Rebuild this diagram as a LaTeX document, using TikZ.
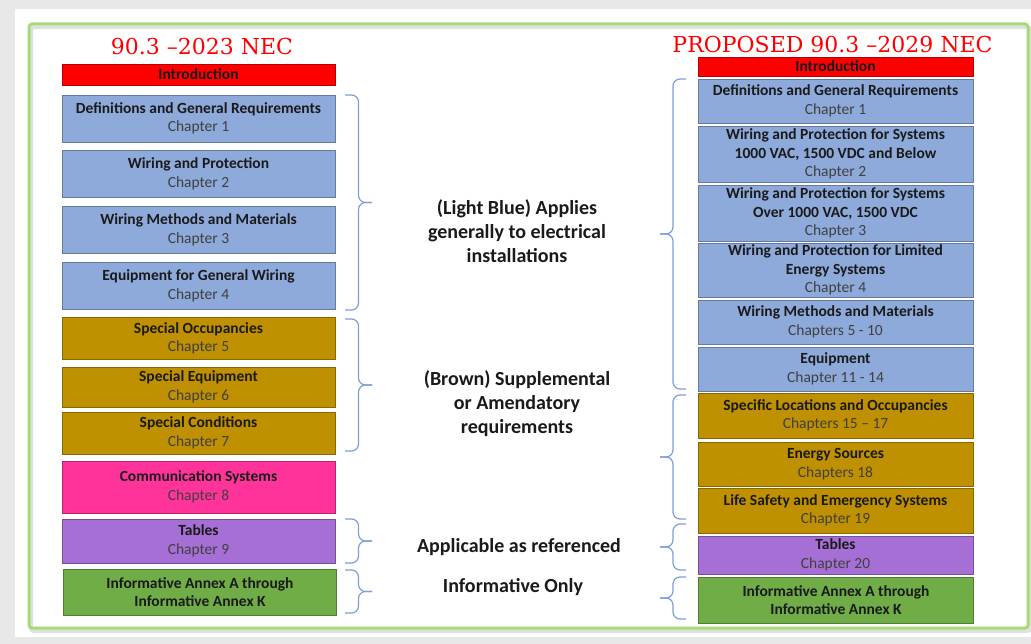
\documentclass[tikz,border=0pt]{standalone}
\usepackage{fontspec}
\setmainfont{Carlito}
\newfontfamily\titlefont{DejaVu Serif}
\usetikzlibrary{calc}
\definecolor{lb}{HTML}{8EAADB}
\definecolor{br}{HTML}{BF9000}
\definecolor{pk}{HTML}{FF3399}
\definecolor{pu}{HTML}{A66FD5}
\definecolor{gr}{HTML}{70AD47}
\definecolor{rd}{HTML}{FF0000}
\definecolor{bracec}{HTML}{7F9FD6}
\definecolor{chap}{HTML}{404040}
\definecolor{txt}{HTML}{1A1A1A}
\definecolor{frame}{HTML}{A6DC78}
\definecolor{bg}{HTML}{E8E8E8}
\tikzset{
  box/.style={draw=#1!72!black, fill=#1, line width=0.8pt, align=center, inner sep=0pt,
    text=txt, font=\fontsize{15.5}{18.5}\selectfont},
  lbox/.style={box=#1, minimum width=273pt},
  rbox/.style={box=#1, minimum width=275pt},
  brc/.style={draw=bracec, line width=1.2pt, rounded corners=7pt},
  mid/.style={align=center, text=txt, font=\fontsize{20}{24}\selectfont\bfseries},
  ttl/.style={text=rd, font=\titlefont\fontsize{22}{26}\selectfont, anchor=base, inner sep=0pt}
}
\newcommand\ch[1]{{\color{chap}#1}}
\begin{document}
\begin{tikzpicture}[x=1pt,y=-1pt]
\useasboundingbox (0,0) rectangle (1031,644);
\fill[bg] (0,0) rectangle (1031,644);
\fill[white] (15,9) rectangle (1031,637);
\draw[black!12, line width=4pt, rounded corners=3pt] (31,27) rectangle (1030,631);
\draw[frame, line width=3pt, rounded corners=3pt] (29,24) rectangle (1028,628);

% titles
\node[ttl] (tl) at (202,55) {90.3 –2023 NEC};
\node[ttl] (tr) at (832.5,53) {PROPOSED 90.3 –2029 NEC};

% left column
\node[lbox=rd, minimum height=21pt] (lint) at (198.5,74.5) {\textbf{Introduction}};
\node[lbox=lb, minimum height=47pt] (l1) at (198.5,118.5) {\textbf{Definitions and General Requirements}\\\ch{Chapter 1}};
\node[lbox=lb, minimum height=47pt] (l2) at (198.5,174) {\textbf{Wiring and Protection}\\\ch{Chapter 2}};
\node[lbox=lb, minimum height=47pt] (l3) at (198.5,230) {\textbf{Wiring Methods and Materials}\\\ch{Chapter 3}};
\node[lbox=lb, minimum height=47pt] (l4) at (198.5,286) {\textbf{Equipment for General Wiring}\\\ch{Chapter 4}};
\node[lbox=br, minimum height=42pt] (l5) at (198.5,338.5) {\textbf{Special Occupancies}\\\ch{Chapter 5}};
\node[lbox=br, minimum height=40pt] (l6) at (198.5,387) {\textbf{Special Equipment}\\\ch{Chapter 6}};
\node[lbox=br, minimum height=42pt] (l7) at (198.5,433) {\textbf{Special Conditions}\\\ch{Chapter 7}};
\node[lbox=pk, minimum height=52pt] (l8) at (198.5,487) {\textbf{Communication Systems}\\\ch{Chapter 8}};
\node[lbox=pu, minimum height=44pt] (l9) at (198.5,541) {\textbf{Tables}\\\ch{Chapter 9}};
\node[lbox=gr, minimum height=46pt] (l10) at (200,592) {\textbf{Informative Annex A through}\\\textbf{Informative Annex K}};

% right column
\node[rbox=rd, minimum height=19pt] (rint) at (835.5,66.5) {\textbf{Introduction}};
\node[rbox=lb, minimum height=44pt] (r1) at (835.5,101) {\textbf{Definitions and General Requirements}\\\ch{Chapter 1}};
\node[rbox=lb, minimum height=56pt] (r2) at (835.5,154) {\textbf{Wiring and Protection for Systems}\\\textbf{1000 VAC, 1500 VDC and Below}\\\ch{Chapter 2}};
\node[rbox=lb, minimum height=56pt] (r3) at (835.5,213) {\textbf{Wiring and Protection for Systems}\\\textbf{Over 1000 VAC, 1500 VDC}\\\ch{Chapter 3}};
\node[rbox=lb, minimum height=54pt] (r4) at (835.5,270) {\textbf{Wiring and Protection for Limited}\\\textbf{Energy Systems}\\\ch{Chapter 4}};
\node[rbox=lb, minimum height=44pt] (r5) at (835.5,322) {\textbf{Wiring Methods and Materials}\\\ch{Chapters 5 - 10}};
\node[rbox=lb, minimum height=44pt] (r6) at (835.5,369) {\textbf{Equipment}\\\ch{Chapter 11 - 14}};
\node[rbox=br, minimum height=45pt] (r7) at (835.5,415.5) {\textbf{Specific Locations and Occupancies}\\\ch{Chapters 15 – 17}};
\node[rbox=br, minimum height=44pt] (r8) at (835.5,464) {\textbf{Energy Sources}\\\ch{Chapters 18}};
\node[rbox=br, minimum height=45pt] (r9) at (835.5,510.5) {\textbf{Life Safety and Emergency Systems}\\\ch{Chapter 19}};
\node[rbox=pu, minimum height=38pt] (r10) at (835.5,555) {\textbf{Tables}\\\ch{Chapter 20}};
\node[rbox=gr, minimum height=46pt] (r11) at (836,600) {\textbf{Informative Annex A through}\\\textbf{Informative Annex K}};

% middle labels
\node[mid] (m1) at (517,231) {(Light Blue) Applies\\generally to electrical\\installations};
\node[mid] (m2) at (517,404) {(Brown) Supplemental\\or Amendatory\\requirements};
\node[mid] (m3) at (519,547) {Applicable as referenced};
\node[mid] (m4) at (513,587) {Informative Only};

% left braces
\coordinate (lb1t) at (345,95);  \coordinate (lb1b) at (345,310); \coordinate (lb1m) at (372,202.5);
\coordinate (lb2t) at (345,319); \coordinate (lb2b) at (345,451); \coordinate (lb2m) at (372,385);
\coordinate (lb3t) at (345,519); \coordinate (lb3b) at (345,563); \coordinate (lb3m) at (372,541);
\coordinate (lb4t) at (345,570); \coordinate (lb4b) at (345,613); \coordinate (lb4m) at (372,591.5);
\foreach \b in {lb1,lb2,lb3,lb4}{
  \draw[brc] (\b t) -| ($(\b m)+(-13.5,0)$) -- (\b m);
  \draw[brc] (\b b) -| ($(\b m)+(-13.5,0)$) -- (\b m);
}
% right braces
\coordinate (rb1t) at (686,79);  \coordinate (rb1b) at (686,389); \coordinate (rb1m) at (660,234);
\coordinate (rb2t) at (686,395); \coordinate (rb2b) at (686,519); \coordinate (rb2m) at (660,457);
\coordinate (rb3t) at (686,524); \coordinate (rb3b) at (686,570); \coordinate (rb3m) at (660,547);
\coordinate (rb4t) at (686,577); \coordinate (rb4b) at (686,619); \coordinate (rb4m) at (660,598);
\foreach \b in {rb1,rb2,rb3,rb4}{
  \draw[brc] (\b t) -| ($(\b m)+(13,0)$) -- (\b m);
  \draw[brc] (\b b) -| ($(\b m)+(13,0)$) -- (\b m);
}
\end{tikzpicture}
\end{document}
